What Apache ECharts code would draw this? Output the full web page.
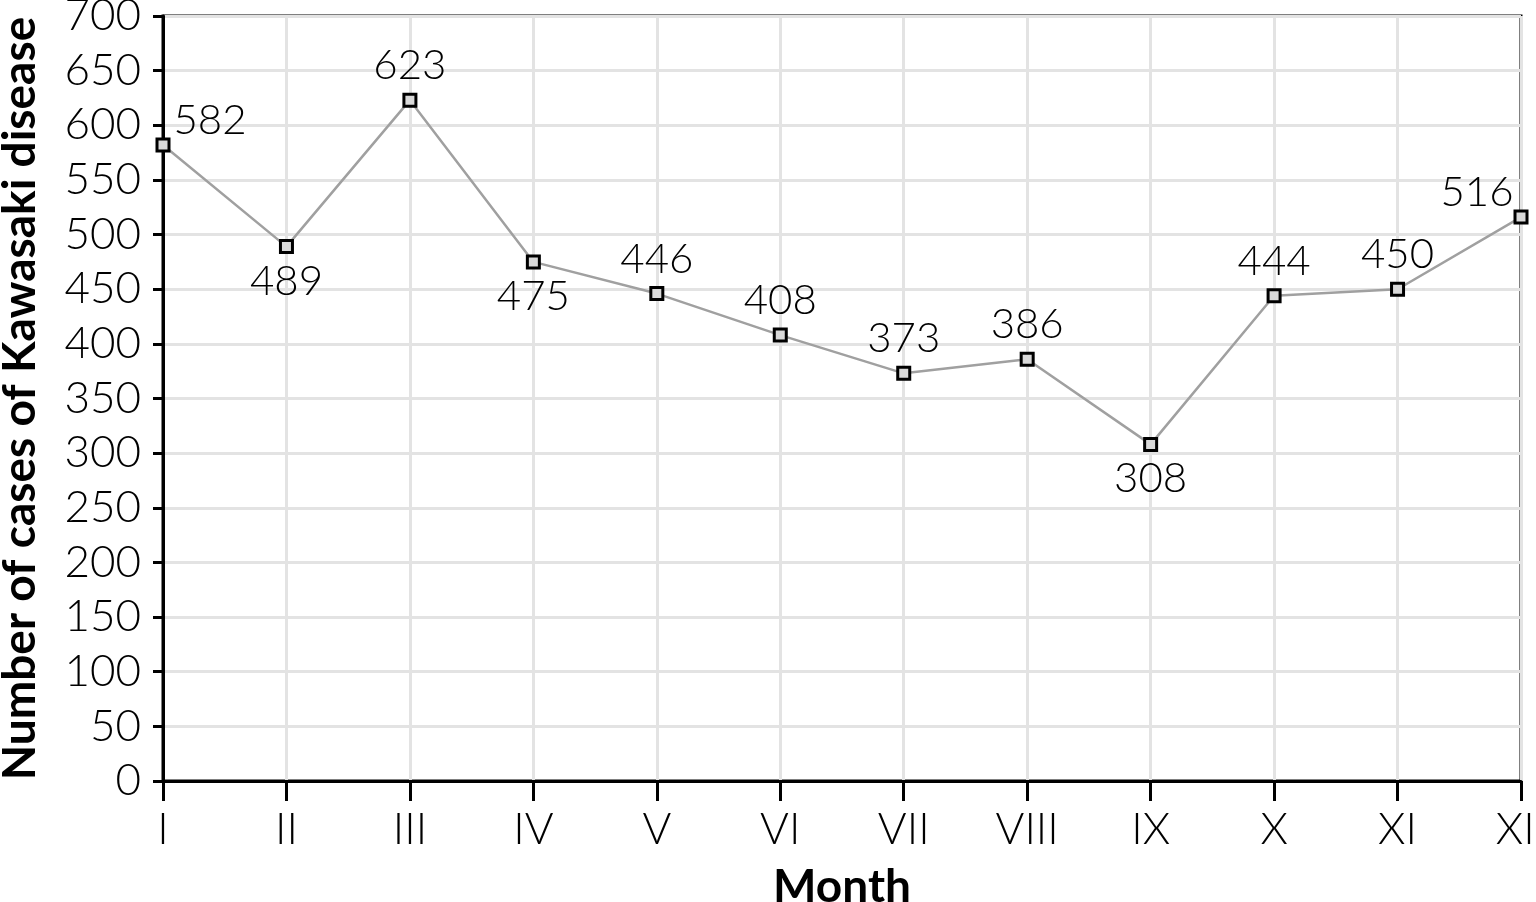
<!DOCTYPE html>
<html><head><meta charset="utf-8">
<script src="https://cdn.jsdelivr.net/npm/echarts@6/dist/echarts.min.js"></script>
<style>html,body{margin:0;padding:0;background:#fff;overflow:hidden;width:100%;height:100%}#c{width:1536px;height:902px}</style>
</head><body><div id="c"></div>
<script>
const months = ['I','II','III','IV','V','VI','VII','VIII','IX','X','XI','XII'];
const cases = [582,489,623,475,446,408,373,386,308,444,450,516];
const labelPos = ['right','bottom','top','bottom','top','top','top','top','bottom','top','top','left'];
const yTicks = {min:0, max:700, interval:50};

const font = 'Lato';
const chart = echarts.init(document.getElementById('c'));
const data = cases.map((v,i)=>{
  const p = labelPos[i];
  const lab = {position: p};
  if (p==='right') lab.offset=[-3,-25];
  if (p==='left') lab.offset=[6,-25];
  return {value:v, label:lab};
});
chart.setOption({
  animation:false,
  grid:{left:163, right:15, top:16, bottom:121, show:true, borderColor:'#000', borderWidth:3,
        containLabel:false, outerBoundsMode:'none'},
  xAxis:{type:'category', data:months, boundaryGap:false,
    name:'Month', nameLocation:'middle', nameGap:83,
    nameTextStyle:{fontFamily:font, fontWeight:'bold', fontSize:46, color:'#000'},
    axisLine:{lineStyle:{color:'#000', width:3}},
    axisTick:{show:true, length:20, lineStyle:{color:'#000', width:3}},
    axisLabel:{fontFamily:font, fontWeight:300, fontSize:44, color:'#000', margin:27, hideOverlap:false},
    splitLine:{show:true, lineStyle:{color:'#e3e3e3', width:3}}
  },
  yAxis:{type:'value', min:yTicks.min, max:yTicks.max, interval:yTicks.interval,
    name:'Number of cases of Kawasaki disease', nameLocation:'middle', nameGap:120,
    nameTextStyle:{fontFamily:font, fontWeight:'bold', fontSize:46, color:'#000'},
    axisLine:{show:true, lineStyle:{color:'#000', width:3}},
    axisTick:{show:true, length:10, lineStyle:{color:'#000', width:3}},
    axisLabel:{fontFamily:font, fontWeight:300, fontSize:44, color:'#000', margin:22},
    splitLine:{show:true, lineStyle:{color:'#e3e3e3', width:3}}
  },
  series:[{type:'line', data:data, symbol:'rect', symbolSize:12,
    lineStyle:{color:'#a0a0a0', width:2.5},
    itemStyle:{color:'#d9d9d9', borderColor:'#000', borderWidth:3},
    label:{show:true, fontFamily:font, fontWeight:300, fontSize:42, color:'#000', distance:6},
    z:5
  }]
});
</script></body></html>
